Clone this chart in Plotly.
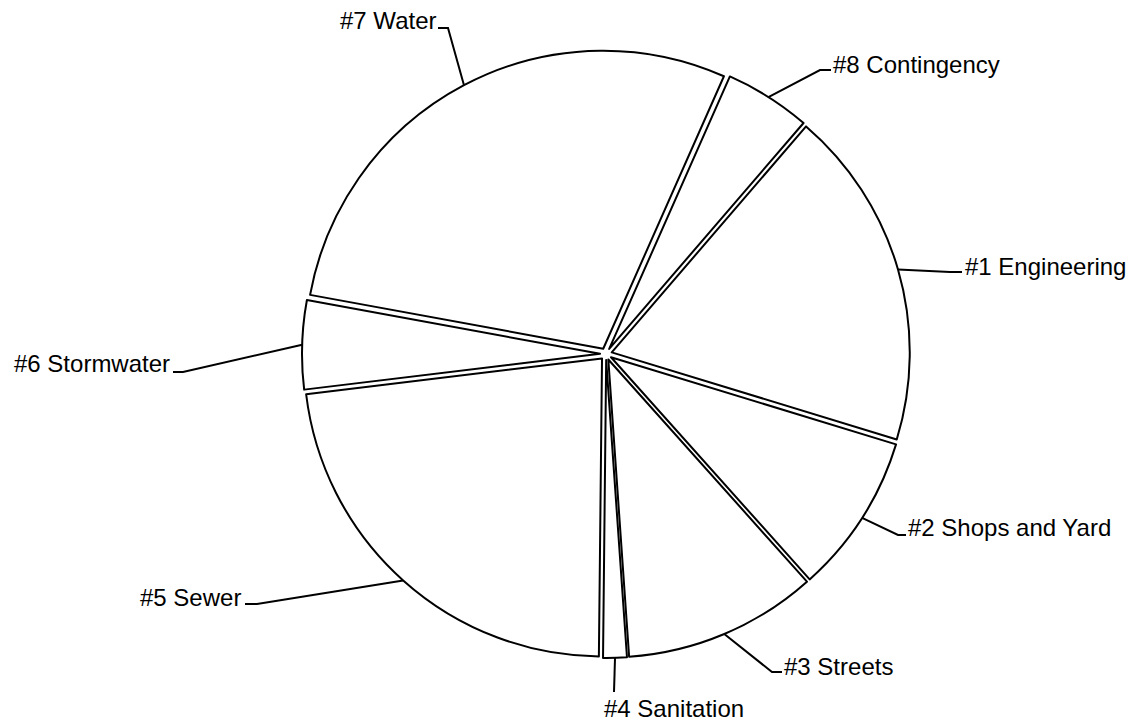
import math
import plotly.graph_objects as go

# ---- data (percent of total) ----
labels = ["#1 Engineering", "#2 Shops and Yard", "#3 Streets", "#4 Sanitation",
          "#5 Sewer", "#6 Stormwater", "#7 Water", "#8 Contingency"]
values = [18.42, 8.67, 10.50, 1.28, 22.92, 4.81, 28.75, 4.67]

# ---- layout constants ----
W, H = 1134, 725
CX, CY, R = 606, 354, 304          # pie centre and outer radius in pixels
PULL = 0.02
ROTATION = 40.7
FONT = dict(family="Liberation Sans, Arial, sans-serif", size=24, color="black")

# label placement: (text x, text y, xanchor, elbow x, elbow y, end x, end y)
label_pos = {
    "#1 Engineering":    (964, 266, "left", 950, 272, 962, 272),
    "#2 Shops and Yard": (907, 527, "left", 898, 535, 906, 535),
    "#3 Streets":        (783, 666, "left", 772, 672, 782, 672),
    "#4 Sanitation":     (603, 708, "left", 614, 692, 614, 692),
    "#5 Sewer":          (242, 597, "right", 257, 604, 245, 604),
    "#6 Stormwater":     (171, 363, "right", 183, 372, 173, 372),
    "#7 Water":          (437, 20, "right", 448, 28, 438, 28),
    "#8 Contingency":    (832, 64, "left", 820, 70, 831, 70),
}


def px(x):
    return x / W


def py(y):
    return 1 - y / H


fig = go.Figure(go.Pie(
    labels=labels,
    values=values,
    sort=False,
    direction="clockwise",
    rotation=ROTATION,
    pull=[PULL] * len(values),
    textinfo="none",
    hoverinfo="label+percent",
    marker=dict(colors=["white"] * len(values), line=dict(color="black", width=2)),
    domain=dict(x=[px(CX - R), px(CX + R)], y=[py(CY + R), py(CY - R)]),
    showlegend=False,
))

# leader lines start at the middle of each slice's outer arc (computed from the data)
total = sum(values)
cum = 0.0
shapes, annotations = [], []
for lab, v in zip(labels, values):
    mid = math.radians(ROTATION + 360.0 * (cum + v / 2) / total)
    cum += v
    ex = CX + R * math.sin(mid)
    ey = CY - R * math.cos(mid)
    tx, ty, xa, bx, by, qx, qy = label_pos[lab]
    path = f"M {px(ex)} {py(ey)} L {px(bx)} {py(by)} L {px(qx)} {py(qy)}"
    shapes.append(dict(type="path", xref="paper", yref="paper", path=path,
                       line=dict(color="black", width=2)))
    annotations.append(dict(x=px(tx), y=py(ty), xref="paper", yref="paper",
                            text=lab, showarrow=False, xanchor=xa, yanchor="middle",
                            font=FONT, borderpad=0))

fig.update_layout(
    width=W, height=H,
    margin=dict(l=0, r=0, t=0, b=0),
    paper_bgcolor="white",
    plot_bgcolor="white",
    shapes=shapes,
    annotations=annotations,
)

fig.write_html("out.html")
